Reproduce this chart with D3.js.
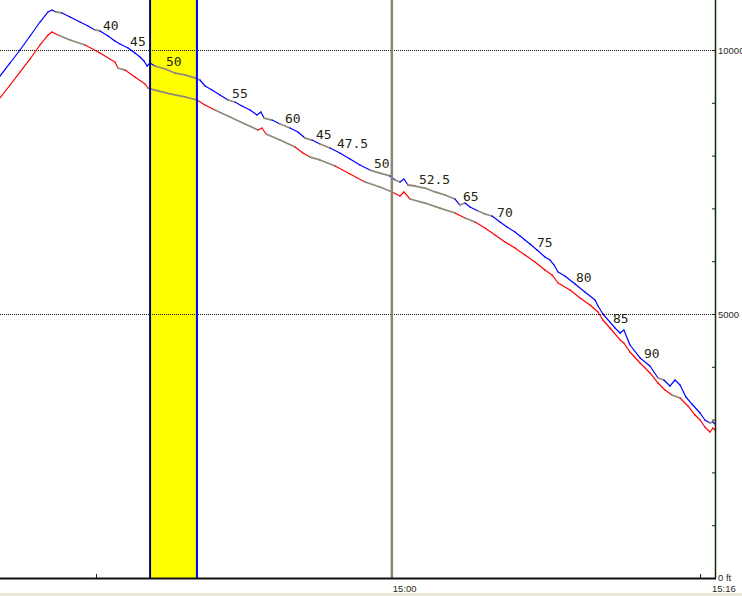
<!DOCTYPE html>
<html>
<head>
<meta charset="utf-8">
<script src="https://cdn.jsdelivr.net/npm/d3@7"></script>
<style>
  html, body { margin: 0; padding: 0; background: #ffffff; }
  svg { display: block; }
</style>
</head>
<body>
<svg id="chart" width="742" height="596"></svg>
<script>
// ---- DATA (time = minutes relative to 15:00, altitude in ft) ----
const upperTime = [-19.40,-18.90,-18.41,-17.91,-17.42,-17.02,-16.83,-16.63,-16.33,-15.93,-15.44,-15.04,-14.70,-14.45,-14.05,-13.71,-13.46,-13.06,-12.72,-12.47,-12.27,-12.12,-11.97,-11.73,-11.23,-10.74,-10.24,-9.75,-9.50,-9.25,-8.90,-8.51,-8.11,-7.77,-7.42,-7.02,-6.68,-6.48,-6.33,-5.93,-5.54,-5.04,-4.65,-4.30,-3.95,-3.56,-3.06,-2.57,-2.07,-1.58,-1.08,-0.59,-0.09,0.16,0.40,0.60,0.80,1.15,1.64,2.14,2.63,3.13,3.37,3.62,3.87,4.27,4.61,4.96,5.36,5.70,6.10,6.35,6.59,6.84,7.19,7.58,7.83,8.03,8.23,8.57,9.07,9.56,10.06,10.21,10.45,10.80,11.05,11.30,11.49,11.79,12.29,12.78,13.18,13.47,13.77,14.02,14.27,14.56,14.86,15.26,15.50,15.75,15.90,16.00];
const upperAlt = [9507,9754,10000,10265,10530,10720,10758,10720,10701,10625,10530,10455,10379,10360,10265,10170,10114,10038,9943,9867,9792,9697,9754,9697,9640,9564,9527,9470,9432,9318,9242,9148,9053,9015,8939,8864,8769,8826,8712,8674,8598,8523,8447,8333,8295,8220,8144,8049,7936,7822,7727,7670,7614,7538,7500,7557,7443,7424,7386,7311,7254,7178,7064,7102,7026,6951,6894,6856,6742,6648,6553,6477,6402,6326,6212,6080,6023,5928,5795,5720,5568,5417,5265,5151,5000,4848,4735,4640,4697,4413,4167,4015,3788,3750,3636,3750,3655,3428,3295,3125,2992,2936,2955,2917];

const lowerTime = [-19.40,-18.90,-18.41,-17.91,-17.42,-17.02,-16.83,-16.53,-15.93,-15.19,-14.45,-13.71,-13.56,-13.21,-12.72,-12.22,-12.07,-11.73,-10.98,-10.24,-9.65,-9.25,-8.76,-8.01,-7.27,-6.63,-6.43,-6.23,-5.54,-4.79,-4.40,-4.05,-3.56,-2.81,-2.07,-1.33,-0.59,0.01,0.40,0.60,0.90,1.64,2.38,3.13,3.62,4.12,4.61,5.11,5.60,6.10,6.59,7.09,7.58,7.93,8.23,8.82,9.32,9.81,10.21,10.45,10.80,11.30,11.49,11.79,12.29,12.78,13.18,13.52,13.87,14.27,14.66,15.01,15.26,15.50,15.75,15.90,16.00];
const lowerAlt = [9091,9337,9583,9830,10095,10284,10341,10284,10189,10095,9943,9773,9659,9621,9488,9356,9280,9242,9167,9110,9053,8958,8864,8731,8598,8485,8523,8409,8295,8163,8049,7973,7917,7803,7652,7500,7405,7311,7235,7311,7178,7102,7007,6913,6818,6742,6629,6496,6364,6250,6117,5985,5833,5739,5587,5455,5303,5170,5038,4886,4735,4508,4451,4280,4072,3883,3693,3561,3466,3409,3258,3087,2992,2860,2765,2841,2803];

const labelTime = [-14.30,-12.96,-11.18,-7.91,-5.29,-3.76,-2.72,-0.88,1.34,3.52,5.21,7.19,9.12,10.95,12.48];
const labelText = ["40","45","50","55","60","45","47.5","50","52.5","65","70","75","80","85","90"];

const bandStart = -11.97, bandEnd = -9.65;   // highlighted period
const markerTime = 0;                          // 15:00 marker
const timeTicks = [-14.65, 15.26];
const timeLabels = [{t: 0, text: "15:00"}, {t: 16, text: "15:16"}];
const altGrid = [5000, 10000];
const altLabels = [{v: 10000, text: "10000"}, {v: 5000, text: "5000"}, {v: 0, text: "0 ft"}];

// ---- LAYOUT ----
const svg = d3.select("#chart");
const W = 742, H = 596;
const plotRight = 715, plotBottom = 578;

const x = d3.scaleLinear().domain([-19.4, 16]).range([0, plotRight]);
const y = d3.scaleLinear().domain([0, 10000]).range([plotBottom, 50]);

svg.append("rect").attr("width", W).attr("height", H).attr("fill", "#ffffff");
svg.append("rect").attr("x", 0).attr("y", 593).attr("width", W).attr("height", 3).attr("fill", "#ece9d8");

// highlighted band
svg.append("rect")
  .attr("x", x(bandStart)).attr("y", 0)
  .attr("width", x(bandEnd) - x(bandStart)).attr("height", plotBottom)
  .attr("fill", "#ffff00");

// horizontal grid lines
svg.selectAll("line.grid").data(altGrid).enter().append("line")
  .attr("class", "grid")
  .attr("x1", 0).attr("x2", plotRight)
  .attr("y1", d => y(d) + 0.5).attr("y2", d => y(d) + 0.5)
  .attr("stroke", "#1a1a00").attr("stroke-width", 1.2).attr("stroke-dasharray", "1,1");

// lines with coloured segments
function drawSeries(times, alts, mainColor, greyColor) {
  const pts = times.map((t, i) => ({t, a: alts[i]}));
  const segs = [];
  for (let i = 0; i < pts.length - 1; i++) {
    const rate = (pts[i+1].a - pts[i].a) / (pts[i+1].t - pts[i].t);
    const grey = rate > -185 && rate < 185;
    segs.push({p0: pts[i], p1: pts[i+1], grey});
  }
  svg.append("g").selectAll("line").data(segs).enter().append("line")
    .attr("x1", d => x(d.p0.t)).attr("y1", d => y(d.p0.a))
    .attr("x2", d => x(d.p1.t)).attr("y2", d => y(d.p1.a))
    .attr("stroke", d => d.grey ? greyColor : mainColor)
    .attr("stroke-width", d => d.grey ? 1.8 : 1.2)
    .attr("stroke-linecap", "round");
}
drawSeries(lowerTime, lowerAlt, "#ff0000", "#8f8a78");
drawSeries(upperTime, upperAlt, "#0000ff", "#8f8a78");

// band borders
svg.append("line").attr("x1", x(bandStart)).attr("x2", x(bandStart))
  .attr("y1", 0).attr("y2", plotBottom).attr("stroke", "#000080").attr("stroke-width", 2);
svg.append("line").attr("x1", x(bandEnd)).attr("x2", x(bandEnd))
  .attr("y1", 0).attr("y2", plotBottom).attr("stroke", "#0000ff").attr("stroke-width", 2);

// 15:00 marker line
svg.append("line").attr("x1", x(markerTime)).attr("x2", x(markerTime))
  .attr("y1", 0).attr("y2", plotBottom).attr("stroke", "#8a8470").attr("stroke-width", 2.5);

// value labels along the track
const interpUpper = t => {
  const i = d3.bisectLeft(upperTime, t);
  if (i <= 0) return upperAlt[0];
  if (i >= upperTime.length) return upperAlt[upperAlt.length - 1];
  const t0 = upperTime[i-1], t1 = upperTime[i];
  return upperAlt[i-1] + (upperAlt[i] - upperAlt[i-1]) * (t - t0) / (t1 - t0);
};
svg.append("g").selectAll("text").data(labelTime).enter().append("text")
  .attr("x", d => x(d))
  .attr("y", d => y(interpUpper(d)) - 3)
  .attr("font-family", "DejaVu Sans Mono, monospace")
  .attr("font-size", 13)
  .attr("fill", "#262610")
  .text((d, i) => labelText[i]);

// right axis
const yAxis = d3.axisLeft(y).tickValues(d3.range(0, 11000, 1000)).tickSize(3).tickFormat("");
const gy = svg.append("g").attr("transform", `translate(${plotRight},0)`).call(yAxis);
gy.select(".domain").remove();
gy.selectAll(".tick line").attr("stroke", "#0a2a0a");
svg.append("line").attr("x1", plotRight + 0.5).attr("x2", plotRight + 0.5)
  .attr("y1", 0).attr("y2", plotBottom).attr("stroke", "#0a2a0a").attr("stroke-width", 1.5);

// bottom axis
const xAxis = d3.axisTop(x).tickValues(timeTicks).tickSize(4).tickFormat("");
const gx = svg.append("g").attr("transform", `translate(0,${plotBottom})`).call(xAxis);
gx.select(".domain").remove();
gx.selectAll(".tick line").attr("stroke", "#111");
svg.append("line").attr("x1", 0).attr("x2", plotRight + 1)
  .attr("y1", plotBottom + 0.5).attr("y2", plotBottom + 0.5)
  .attr("stroke", "#111").attr("stroke-width", 2);

// axis labels
svg.append("g").selectAll("text").data(altLabels).enter().append("text")
  .attr("x", plotRight + 3)
  .attr("y", d => d.v === 0 ? y(d.v) + 3 : y(d.v) + 4)
  .attr("font-family", "Liberation Sans, Arial, sans-serif")
  .attr("font-size", 9.5)
  .attr("fill", "#2a2a1a")
  .text(d => d.text);
svg.append("g").selectAll("text").data(timeLabels).enter().append("text")
  .attr("x", d => d.t === 16 ? x(d.t) - 3 : x(d.t) + 1)
  .attr("y", 591.5)
  .attr("font-family", "Liberation Sans, Arial, sans-serif")
  .attr("font-size", 9.5)
  .attr("fill", "#2a2a1a")
  .text(d => d.text);
</script>
</body>
</html>
